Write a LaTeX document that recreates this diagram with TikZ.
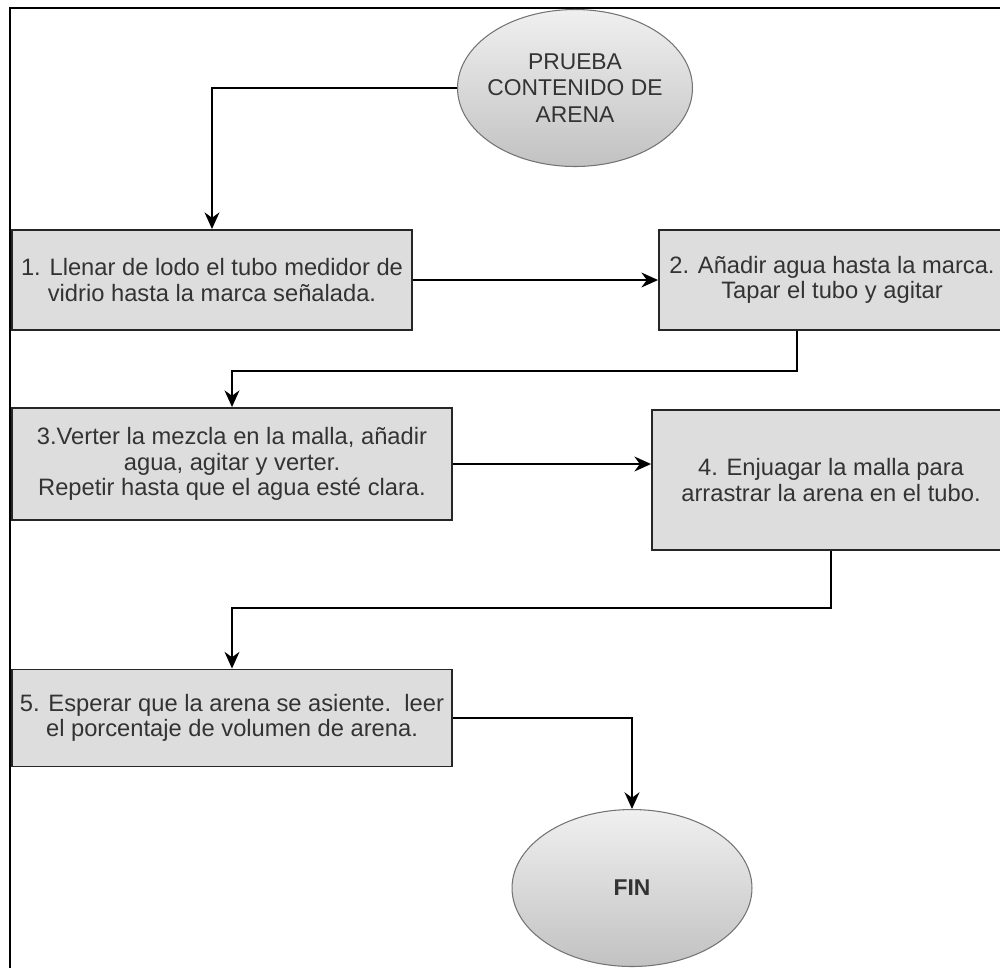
\documentclass[tikz,border=0pt]{standalone}
\usepackage{fontspec}
\setmainfont{Liberation Sans}
\usetikzlibrary{shapes.geometric,arrows.meta}
\definecolor{boxgray}{HTML}{DDDDDD}
\definecolor{inkgray}{HTML}{333333}

\begin{document}
\begin{tikzpicture}[x=0.02cm, y=-0.02cm,
    paso/.style={rectangle, draw=black!85, line width=1.1pt, fill=boxgray, text=inkgray,
      align=center, inner sep=0pt, font=\fontsize{13.5}{14.5}\selectfont},
    terminal/.style={ellipse, draw=black!55, line width=0.6pt, top color=black!6,
      bottom color=black!24, inner sep=0pt, minimum width=4.7cm, minimum height=3.14cm},
    flecha/.style={-{Stealth[length=9.5pt,width=8.5pt]}, line width=0.9pt}]
  \useasboundingbox (0,0) rectangle (1000,968);
  \clip (0,0) rectangle (1000,968);

  % Draw frame
  \draw[line width=1.2pt] (10,968) -- (10,8) -- (1000,8);

  % Draw start and end
  \node[terminal, label={[align=center, text=black!80, font=\fontsize{13}{15}\selectfont]center:{PRUEBA\\CONTENIDO DE\\ARENA}}] (start) at (575,88) {};
  \node[terminal, minimum width=4.8cm, label={[text=black!80, font=\bfseries\fontsize{13}{15}\selectfont]center:FIN}] (fin) at (632,888) {};

  % Draw steps
  \node[paso, minimum width=8cm, minimum height=2cm] (paso1) at (212,280) {1. Llenar de lodo el tubo medidor de\\vidrio hasta la marca señalada.};
  \node[paso, minimum width=6.92cm, minimum height=2cm] (paso2) at (832,280) {2. Añadir agua hasta la marca.\\Tapar el tubo y agitar};
  \node[paso, minimum width=8.8cm, minimum height=2.24cm] (paso3) at (232,464) {3.Verter la mezcla en la malla, añadir\\agua, agitar y verter.\\Repetir hasta que el agua esté clara.};
  \node[paso, minimum width=7.16cm, minimum height=2.8cm] (paso4) at (831,480) {4. Enjuagar la malla para\\arrastrar la arena en el tubo.};
  \node[paso, minimum width=8.8cm, minimum height=1.94cm] (paso5) at (232,718) {5. Esperar que la arena se asiente.\ \ leer\\el porcentaje de volumen de arena.};

  % Connect with arrows
  \draw[flecha] (start.west) -| (paso1.north);
  \draw[flecha] (paso1.east) -- (paso2.west);
  \draw[flecha] ([xshift=2.78cm]paso2.south west) -- ++(0,40) -| (paso3.north);
  \draw[flecha] (paso3.east) -- (paso3.east -| paso4.west);
  \draw[flecha] (paso4.south) -- ++(0,57) -| (paso5.north);
  \draw[flecha] (paso5.east) -| (fin.north);
\end{tikzpicture}
\end{document}
